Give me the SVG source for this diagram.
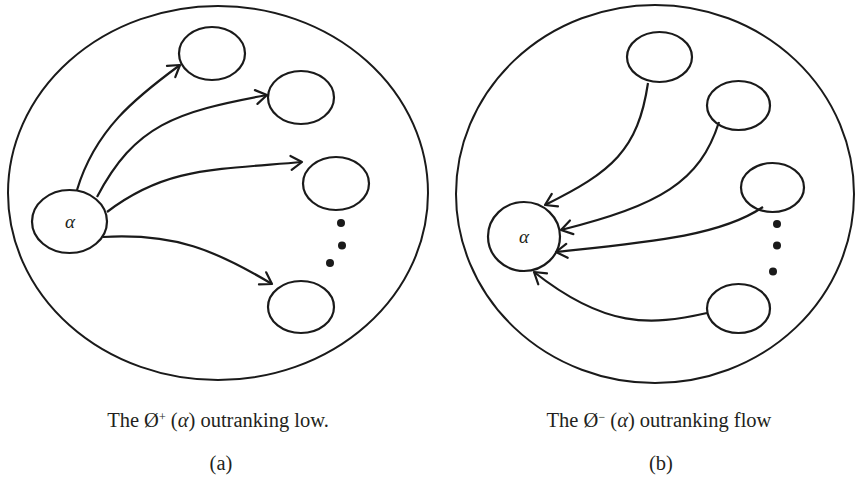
<svg xmlns="http://www.w3.org/2000/svg" width="858" height="478" viewBox="0 0 858 478">
<style>
.big{fill:none;stroke:#1a1a1a;stroke-width:2}
.node{fill:#fff;stroke:#1a1a1a;stroke-width:2.2}
.edge{fill:none;stroke:#1a1a1a;stroke-width:2.2;marker-end:url(#arr)}
.dot{fill:#1a1a1a}
.cap{font-family:"Liberation Serif",serif;font-size:20.5px;fill:#231f20}
.al{font-family:"Liberation Serif",serif;font-style:italic;font-size:19px;fill:#231f20}
</style>
<defs>
<marker id="arr" markerUnits="userSpaceOnUse" markerWidth="18" markerHeight="18" refX="14" refY="9" orient="auto">
<path d="M3,2 L14,9 L3,16" fill="none" stroke="#1a1a1a" stroke-width="2.2" stroke-linecap="round" stroke-linejoin="round"/>
</marker>
</defs>

<g id="panel-a">
<ellipse class="big" cx="218" cy="193" rx="210" ry="187"/>
</g>
<g id="panel-b">
<ellipse class="big" cx="655" cy="194" rx="199" ry="189"/>
</g>

<g id="a-alpha"><ellipse class="node" cx="69.5" cy="221.5" rx="37.5" ry="31.5"/><text class="al" x="70" y="228" text-anchor="middle">α</text></g>
<g id="a-n1"><ellipse class="node" cx="212" cy="53.5" rx="33" ry="26.5"/></g>
<g id="a-n2"><ellipse class="node" cx="301" cy="97.5" rx="33" ry="26.5"/></g>
<g id="a-n3"><ellipse class="node" cx="336" cy="183.5" rx="33" ry="26.5"/></g>
<g id="a-n4"><ellipse class="node" cx="301" cy="307" rx="33" ry="26"/></g>
<g id="a-dots"><circle class="dot" cx="341" cy="223" r="4"/><circle class="dot" cx="342" cy="245.5" r="4"/><circle class="dot" cx="330" cy="263" r="4"/></g>

<g id="b-alpha"><ellipse class="node" cx="524" cy="236.5" rx="36" ry="34.5"/><text class="al" x="524" y="243" text-anchor="middle">α</text></g>
<g id="b-n1"><ellipse class="node" cx="659.5" cy="57" rx="32.5" ry="25"/></g>
<g id="b-n2"><ellipse class="node" cx="738.5" cy="105.5" rx="31.5" ry="24.5"/></g>
<g id="b-n3"><ellipse class="node" cx="772.5" cy="187.5" rx="31.5" ry="24.5"/></g>
<g id="b-n4"><ellipse class="node" cx="738.5" cy="308.5" rx="31.5" ry="24.5"/></g>
<g id="b-dots"><circle class="dot" cx="777" cy="224" r="4"/><circle class="dot" cx="777" cy="245.5" r="4"/><circle class="dot" cx="773" cy="271.5" r="4"/></g>

<g id="connectors">
<path class="edge" d="M77,190 C95,130 135,98 180,65"/>
<path class="edge" d="M97,197 C135,125 175,112 267,95"/>
<path class="edge" d="M107,212 C165,168 210,170 302,162"/>
<path class="edge" d="M103,237 C175,233 215,250 272,284"/>
<path class="edge" d="M648,83 C638,150 612,172 545,205"/>
<path class="edge" d="M719,122 C700,182 660,205 561,230"/>
<path class="edge" d="M763,207 C720,236 650,242 556,252"/>
<path class="edge" d="M707,313 C650,326 605,328 534,272"/>
</g>

<g id="captions">
<text class="cap" x="218" y="427" text-anchor="middle">The Ø<tspan font-size="12" dy="-6">+</tspan><tspan dy="6"> (</tspan><tspan font-style="italic">α</tspan>) outranking low.</text>
<text class="cap" x="221" y="470" text-anchor="middle">(a)</text>
<text class="cap" x="659" y="427" text-anchor="middle">The Ø<tspan font-size="12" dy="-6">−</tspan><tspan dy="6"> (</tspan><tspan font-style="italic">α</tspan>) outranking flow</text>
<text class="cap" x="661" y="470" text-anchor="middle">(b)</text>
</g>
</svg>
